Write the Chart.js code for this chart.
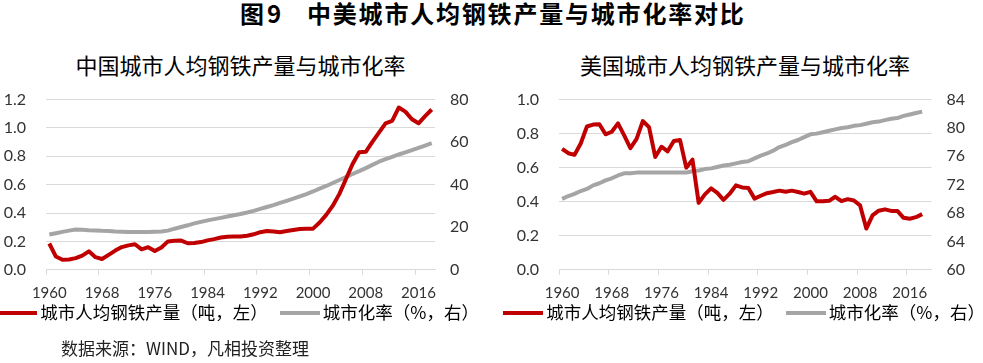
<!DOCTYPE html>
<html><head><meta charset="utf-8">
<script src="https://cdn.jsdelivr.net/npm/chart.js@4.4.1/dist/chart.umd.min.js"></script>
<style>
html,body{margin:0;padding:0;background:#fff;width:983px;height:363px;overflow:hidden;position:relative;font-family:"Noto Sans CJK SC",sans-serif;}
.t{position:absolute;top:-2px;font-weight:bold;font-size:24px;line-height:30px;color:#000;white-space:nowrap;}
.sub{position:absolute;top:50px;font-size:22px;line-height:28px;color:#000;text-align:center;white-space:nowrap;}
#src{position:absolute;left:61px;top:337px;font-size:17px;line-height:22px;color:#222;white-space:nowrap;}
.box{position:absolute;top:70px;}
</style></head>
<body>
<span class="t" style="left:240px">图</span><span class="t" style="left:267px">9</span><span class="t" style="left:307px;letter-spacing:1.8px">中美城市人均钢铁产量与城市化率对比</span>
<div class="sub" style="left:46px;width:389px">中国城市人均钢铁产量与城市化率</div>
<div class="sub" style="left:559px;width:372px">美国城市人均钢铁产量与城市化率</div>
<div class="box" style="left:-19px;"><canvas id="c1" width="520" height="277"></canvas></div>
<div class="box" style="left:487px;"><canvas id="c2" width="520" height="277"></canvas></div>
<div id="src">数据来源：WIND，凡相投资整理</div>
<script>
// ---- data ----
const yearsCN = ['1960','1961','1962','1963','1964','1965','1966','1967','1968','1969',
  '1970','1971','1972','1973','1974','1975','1976','1977','1978','1979',
  '1980','1981','1982','1983','1984','1985','1986','1987','1988','1989',
  '1990','1991','1992','1993','1994','1995','1996','1997','1998','1999',
  '2000','2001','2002','2003','2004','2005','2006','2007','2008','2009',
  '2010','2011','2012','2013','2014','2015','2016','2017','2018'];
const yearsUS = yearsCN.concat(['2019']);

const seriesSteelName = '城市人均钢铁产量（吨，左）';
const seriesUrbanName = '城市化率（%，右）';

const cnSteel = [0.185,0.093,0.070,0.072,0.082,0.100,0.130,0.089,0.076,0.105,
  0.135,0.160,0.172,0.180,0.144,0.159,0.132,0.157,0.200,0.205,
  0.206,0.187,0.188,0.195,0.207,0.216,0.227,0.233,0.234,0.234,
  0.240,0.250,0.265,0.273,0.270,0.265,0.273,0.280,0.287,0.290,
  0.290,0.333,0.387,0.452,0.535,0.640,0.746,0.828,0.832,0.902,
  0.967,1.033,1.050,1.144,1.115,1.061,1.033,1.083,1.130];
const cnUrban = [16.6,17.2,17.8,18.4,18.9,18.8,18.6,18.5,18.3,18.2,
  18.0,17.9,17.8,17.7,17.7,17.8,17.9,18.0,18.4,19.3,
  20.1,20.9,21.8,22.5,23.2,23.8,24.4,25.0,25.6,26.2,
  26.9,27.7,28.6,29.5,30.4,31.4,32.4,33.4,34.5,35.6,
  36.8,38.1,39.4,40.8,42.2,43.6,45.0,46.4,47.8,49.3,
  50.8,52.0,53.1,54.2,55.2,56.2,57.3,58.4,59.5];
const usSteel = [0.711,0.685,0.675,0.742,0.842,0.853,0.855,0.796,0.811,0.860,
  0.790,0.715,0.769,0.874,0.838,0.663,0.723,0.696,0.757,0.762,
  0.600,0.647,0.393,0.443,0.478,0.452,0.411,0.447,0.496,0.484,
  0.480,0.418,0.435,0.450,0.457,0.465,0.458,0.465,0.457,0.447,
  0.458,0.402,0.403,0.405,0.429,0.403,0.415,0.407,0.378,0.242,
  0.320,0.347,0.355,0.346,0.346,0.305,0.300,0.309,0.327,null];
const usUrban = [70.0,70.4,70.7,71.1,71.4,71.9,72.2,72.6,72.9,73.3,
  73.6,73.6,73.7,73.7,73.7,73.7,73.7,73.7,73.7,73.7,
  73.7,73.9,74.0,74.2,74.3,74.5,74.7,74.8,75.0,75.2,
  75.3,75.7,76.1,76.4,76.8,77.3,77.6,78.0,78.3,78.7,
  79.1,79.2,79.4,79.6,79.8,80.0,80.1,80.3,80.4,80.6,
  80.8,80.9,81.1,81.3,81.4,81.7,81.9,82.1,82.3,null];

const cnLeftAxis = {min: 0, max: 1.2, step: 0.2};
const cnRightAxis = {min: 0, max: 80, step: 20};
const usLeftAxis = {min: 0, max: 1.0, step: 0.2};
const usRightAxis = {min: 60, max: 84, step: 4};

const RED = '#C00000', GRAY = '#A5A5A5', GRID = '#D9D9D9', TXT = '#333333';

// legend line sample (40px wide, 4px thick)
function lineSample(color) {
  const c = document.createElement('canvas');
  c.width = 40; c.height = 4;
  const g = c.getContext('2d');
  g.fillStyle = color; g.fillRect(0, 0, 40, 4);
  return c;
}

// move the legend up closer to the x-axis labels
const legendShift = {
  id: 'legendShift',
  afterLayout(chart) {
    const lg = chart.legend;
    if (lg) { lg.top -= 15.5; lg.bottom -= 15.5; }
  }
};

function makeChart(id, labels, steel, urban, la, ra, leftW, rightW) {
  return new Chart(document.getElementById(id), {
    type: 'line',
    plugins: [legendShift],
    data: {
      labels: labels,
      datasets: [
        {label: seriesSteelName, data: steel, borderColor: RED, backgroundColor: RED, borderWidth: 4,
         pointRadius: 0, pointStyle: lineSample(RED), tension: 0, yAxisID: 'y', borderJoinStyle: 'round'},
        {label: seriesUrbanName, data: urban, borderColor: GRAY, backgroundColor: GRAY, borderWidth: 4,
         pointRadius: 0, pointStyle: lineSample(GRAY), tension: 0, yAxisID: 'y1', borderJoinStyle: 'round'}
      ]
    },
    options: {
      responsive: false, animation: false, devicePixelRatio: 1,
      layout: {padding: {top: 15.3, left: 0, right: 0, bottom: 0}},
      plugins: {
        title: {display: false}, tooltip: {enabled: false},
        legend: {
          position: 'bottom',
          labels: {usePointStyle: true, pointStyleWidth: 28.5, boxHeight: 17.5,
                   padding: 17.75, color: '#000', font: {family: 'Noto Sans CJK SC', size: 17.5}}
        }
      },
      scales: {
        x: {
          type: 'category', offset: true,
          grid: {offset: true, drawOnChartArea: false, drawTicks: true, tickLength: 5,
                 color: c => (c.index !== undefined && c.index % 8 === 0) ? GRID : 'rgba(0,0,0,0)'},
          border: {display: true, color: GRID, width: 1},
          ticks: {autoSkip: false, maxRotation: 0, minRotation: 0, padding: 9, color: TXT,
                  font: {family: 'Lato', size: 15},
                  callback: function (v, i) { return i % 8 === 0 ? this.getLabelForValue(v) : ''; }},
          afterFit: s => { s.height = 32; }
        },
        y: {
          position: 'left', min: la.min, max: la.max,
          grid: {color: GRID, drawTicks: false},
          border: {display: false},
          ticks: {stepSize: la.step, padding: 20, color: TXT, font: {family: 'Lato', size: 16},
                  callback: v => Number(v).toFixed(1)},
          afterFit: s => { s.width = leftW; }
        },
        y1: {
          position: 'right', min: ra.min, max: ra.max,
          grid: {drawOnChartArea: false, drawTicks: false},
          border: {display: false},
          ticks: {stepSize: ra.step, padding: 15, color: TXT, font: {family: 'Lato', size: 16}},
          afterFit: s => { s.width = rightW; }
        }
      }
    }
  });
}

makeChart('c1', yearsCN, cnSteel, cnUrban, cnLeftAxis, cnRightAxis, 65, 66);
makeChart('c2', yearsUS, usSteel, usUrban, usLeftAxis, usRightAxis, 72, 75.5);
</script>
</body></html>
